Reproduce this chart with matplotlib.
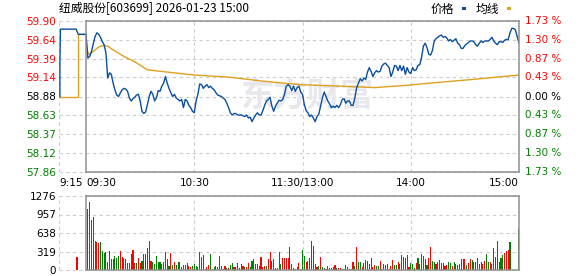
import matplotlib
matplotlib.use('Agg')  # no display in the sandbox

import matplotlib.pyplot as plt
import matplotlib.transforms as mtransforms
from matplotlib.patches import Rectangle
import numpy as np

# ---- data ----
title = '纽威股份[603699] 2026-01-23 15:00'
prev_close = 58.88
price_ticks = [57.86, 58.12, 58.37, 58.63, 58.88, 59.14, 59.39, 59.64, 59.90]
pct_ticks = [1.73, 1.30, 0.87, 0.43, 0.00, 0.43, 0.87, 1.30, 1.73]
vol_ticks = [0, 319, 638, 957, 1276]
time_ticks = [-15, 0, 60, 120, 180, 240]
time_labels = ['9:15', '09:30', '10:30', '11:30/13:00', '14:00', '15:00']

# call auction 9:15-9:30 (minutes relative to 9:30)
pre_times = [-14.5, -14.5, -14.2, -5.5, -4.3, 0]
pre_price = [58.88, 59.34, 59.79, 59.79, 59.72, 59.72]
pre_avg_times = [-14.5, -4.6, -4.6, -4.3, -4.3, 0]
pre_avg = [58.88, 58.88, 59.29, 59.29, 59.72, 59.72]
pre_vol_times = [-5]
pre_vol = [230]

# one price per trading minute, 09:30 .. 15:00 (241 points)
price = [
    59.72, 59.40, 59.42, 59.49, 59.59, 59.69, 59.74, 59.72, 59.68, 59.62,
    59.58, 59.47, 59.13, 59.20, 59.18, 59.06, 58.97, 58.90, 58.88, 58.93,
    58.97, 58.99, 58.98, 58.95, 58.86, 58.82, 58.85, 58.87, 58.90, 58.91,
    58.82, 58.68, 58.65, 58.67, 58.77, 58.88, 58.95, 58.91, 58.82, 58.86,
    58.96, 58.95, 59.02, 59.06, 59.15, 59.06, 58.99, 58.93, 58.88, 58.91,
    58.86, 58.84, 58.82, 58.84, 58.73, 58.84, 58.82, 58.76, 58.73, 58.68,
    58.66, 58.82, 58.91, 59.05, 59.04, 58.99, 59.02, 59.04, 59.00, 59.02,
    58.99, 58.97, 58.93, 58.90, 58.89, 58.88, 58.86, 58.84, 58.79, 58.73,
    58.66, 58.63, 58.65, 58.65, 58.63, 58.63, 58.63, 58.62, 58.61, 58.63,
    58.59, 58.60, 58.54, 58.59, 58.63, 58.66, 58.63, 58.63, 58.69, 58.76,
    58.82, 58.84, 58.87, 58.75, 58.68, 58.75, 58.79, 58.83, 58.82, 58.84,
    58.91, 59.02, 59.04, 59.02, 58.96, 59.02, 58.95, 59.00, 59.02, 58.94,
    58.91, 58.77, 58.69, 58.66, 58.61, 58.63, 58.59, 58.54, 58.61, 58.64,
    58.75, 58.86, 58.94, 58.88, 58.82, 58.78, 58.73, 58.75, 58.73, 58.76,
    58.73, 58.77, 58.84, 58.85, 58.79, 58.82, 58.82, 58.76, 58.76, 58.86,
    59.00, 59.06, 59.12, 59.09, 59.13, 59.11, 59.21, 59.27, 59.22, 59.15,
    59.20, 59.23, 59.21, 59.22, 59.29, 59.32, 59.33, 59.30, 59.27, 59.15,
    59.21, 59.30, 59.29, 59.23, 59.30, 59.23, 59.29, 59.18, 59.27, 59.21,
    59.19, 59.27, 59.23, 59.24, 59.30, 59.31, 59.41, 59.56, 59.60, 59.54,
    59.45, 59.44, 59.50, 59.63, 59.66, 59.68, 59.70, 59.71, 59.68, 59.69,
    59.67, 59.63, 59.65, 59.62, 59.64, 59.66, 59.60, 59.58, 59.53, 59.53,
    59.57, 59.59, 59.61, 59.63, 59.63, 59.62, 59.58, 59.56, 59.60, 59.63,
    59.61, 59.63, 59.63, 59.63, 59.65, 59.68, 59.63, 59.60, 59.58, 59.62,
    59.62, 59.61, 59.64, 59.65, 59.65, 59.74, 59.80, 59.80, 59.78, 59.69,
    59.60,
]

# average price line, read at a few points
avg_minutes = [0, 1, 2, 4, 6, 8, 10, 12, 15, 21, 27, 34, 45, 60, 80, 97,
               119, 140, 160, 177, 195, 214, 240]
avg_price = [59.60, 59.47, 59.45, 59.49, 59.53, 59.56, 59.57, 59.56, 59.51,
             59.42, 59.35, 59.24, 59.21, 59.17, 59.14, 59.09, 59.04, 59.02,
             59.00, 59.03, 59.07, 59.11, 59.17]

# volume per minute 09:31 .. 15:00 (240 bars), 1 = up (red), 0 = down (green)
volume = [
    1052, 1173, 862, 908, 494, 477, 466, 477, 322, 293,
    305, 132, 322, 190, 190, 247, 201, 236, 322, 219,
    201, 190, 121, 121, 276, 345, 121, 121, 201, 121,
    150, 276, 276, 380, 494, 150, 132, 103, 236, 132,
    132, 103, 132, 305, 190, 75, 288, 86, 132, 92,
    132, 132, 58, 86, 86, 115, 75, 46, 75, 103,
    75, 46, 305, 219, 259, 17, 46, 92, 276, 17,
    46, 75, 46, 242, 69, 17, 69, 35, 35, 81,
    115, 46, 58, 115, 35, 103, 75, 58, 46, 115,
    46, 150, 190, 103, 103, 75, 219, 58, 75, 75,
    190, 305, 150, 190, 35, 35, 305, 103, 201, 201,
    207, 207, 391, 103, 35, 17, 58, 115, 17, 345,
    242, 132, 161, 207, 506, 420, 103, 58, 75, 230,
    58, 35, 23, 75, 35, 35, 58, 92, 35, 35,
    35, 17, 17, 92, 58, 17, 17, 132, 75, 402,
    132, 144, 58, 121, 173, 150, 103, 207, 46, 92,
    75, 75, 161, 17, 103, 92, 103, 17, 75, 173,
    92, 92, 132, 103, 259, 230, 207, 259, 58, 121,
    103, 35, 121, 207, 103, 276, 247, 190, 86, 207,
    402, 150, 138, 103, 132, 173, 121, 115, 75, 92,
    132, 121, 75, 132, 103, 92, 103, 190, 190, 190,
    92, 121, 190, 173, 132, 132, 207, 103, 132, 103,
    161, 276, 132, 132, 103, 380, 230, 506, 132, 207,
    259, 293, 334, 345, 477, 0, 0, 0, 0, 707,
]
vol_up = [
    0, 0, 1, 1, 1, 1, 1, 0, 0, 0,
    0, 0, 0, 0, 0, 0, 0, 0, 1, 1,
    1, 1, 0, 0, 0, 1, 1, 0, 1, 1,
    0, 0, 0, 1, 1, 1, 0, 0, 0, 0,
    0, 0, 1, 1, 1, 0, 1, 0, 1, 0,
    0, 1, 0, 1, 1, 0, 1, 1, 0, 0,
    0, 0, 1, 1, 0, 0, 1, 1, 0, 1,
    0, 1, 0, 1, 0, 1, 1, 0, 1, 0,
    0, 1, 0, 1, 0, 1, 1, 0, 1, 1,
    0, 0, 1, 1, 1, 0, 1, 1, 1, 0,
    1, 1, 0, 1, 1, 1, 1, 0, 1, 1,
    1, 1, 1, 1, 0, 1, 0, 1, 0, 0,
    0, 1, 1, 0, 0, 1, 1, 1, 0, 1,
    0, 0, 1, 0, 0, 1, 0, 1, 0, 1,
    1, 0, 0, 1, 1, 0, 1, 1, 0, 1,
    0, 0, 1, 0, 1, 1, 0, 0, 1, 1,
    0, 0, 1, 1, 1, 0, 0, 0, 1, 1,
    0, 0, 1, 0, 1, 1, 0, 1, 1, 0,
    0, 0, 1, 0, 1, 1, 1, 0, 0, 1,
    1, 0, 0, 1, 1, 1, 0, 1, 1, 1,
    0, 0, 1, 0, 1, 0, 1, 1, 1, 1,
    0, 1, 1, 0, 1, 1, 1, 0, 1, 1,
    1, 0, 0, 1, 1, 1, 0, 0, 1, 0,
    0, 1, 1, 1, 0, 0, 0, 0, 0, 0,
]

# ---- styling ----
UP = '#ff0000'
DOWN = '#008000'
BLUE = '#0a4f9e'
GOLD = '#e0a020'
GRID = '#cccccc'
BOX = '#8f8f8f'
NUM_FONT = 7.5
CJK = ['Noto Sans CJK SC', 'DejaVu Sans']

fig = plt.figure(figsize=(5.78, 2.76), dpi=100)
W, H = 578, 276
ax = fig.add_axes([59 / W, 1 - 172 / H, 460 / W, 151 / H])
axv = fig.add_axes([59 / W, 1 - 270 / H, 460 / W, 74 / H])

x_start, x_end = time_ticks[0], time_ticks[-1]
open_frac = (0 - x_start) / (x_end - x_start)


def frame(a, levels):
    # dashed grid over the whole width, solid box from 09:30 onward
    for s in a.spines.values():
        s.set_visible(False)
    for lv in levels:
        a.axhline(lv, color=GRID, lw=0.8, ls=(0, (3, 3)), zorder=0, clip_on=False)
    for t in [x_start, 60, 120, 180]:
        a.axvline(t, color=GRID, lw=0.8, ls=(0, (3, 3)), zorder=0)
    a.axvline(0, color=BOX, lw=1.1, zorder=5, clip_on=False)
    a.axvline(x_end, color=BOX, lw=1.1, zorder=5, clip_on=False)
    a.axhline(levels[-1], xmin=open_frac, xmax=1, color=BOX, lw=1.1, zorder=5, clip_on=False)
    a.axhline(levels[0], xmin=open_frac, xmax=1, color=BOX, lw=1.1, zorder=5, clip_on=False)
    a.set_xlim(x_start, x_end)
    a.set_ylim(levels[0], levels[-1])
    a.tick_params(length=0, labelsize=NUM_FONT, pad=2)


def side_color(p):
    return UP if p > prev_close else DOWN if p < prev_close else 'black'


# ---- price panel ----
frame(ax, price_ticks)
minutes = np.arange(len(price))

ax.text(307 / W, 1 - 97 / H, '东方财富', transform=fig.transFigure, ha='center',
        va='center', fontsize=24, fontweight='bold', color='#e8e8ec',
        family=CJK, zorder=0.5)

ax.plot(pre_avg_times, pre_avg, color=GOLD, lw=1.0, zorder=2)
ax.plot(avg_minutes, avg_price, color=GOLD, lw=1.0, zorder=2)
ax.plot(pre_times, pre_price, color=BLUE, lw=1.0, zorder=3)
ax.plot(minutes, price, color=BLUE, lw=1.0, zorder=3)

ax.set_yticks(price_ticks)
ax.set_yticklabels([f'{p:.2f}' for p in price_ticks])
for lbl, p in zip(ax.get_yticklabels(), price_ticks):
    lbl.set_color(side_color(p))

# percent labels on the right
trans = mtransforms.blended_transform_factory(ax.transAxes, ax.transData)
for p, pct in zip(price_ticks, pct_ticks):
    ax.text(1.013, p, f'{pct:.2f} %', transform=trans, ha='left',
            va='center', fontsize=NUM_FONT, color=side_color(p), clip_on=False)

ax.set_xticks(time_ticks)
ax.set_xticklabels(time_labels)
ax.tick_params(axis='x', pad=4)
xl = ax.get_xticklabels()
xl[0].set_ha('left')
xl[1].set_ha('left')
xl[-1].set_ha('right')

# ---- volume panel ----
frame(axv, vol_ticks)
vol_minutes = np.arange(1, len(volume) + 1)
colors = [UP if u else DOWN for u in vol_up]
axv.bar(pre_vol_times, pre_vol, width=0.6, color=UP, linewidth=0, antialiased=False)
axv.bar(vol_minutes, volume, width=0.6, color=colors, linewidth=0, antialiased=False)
axv.set_yticks(vol_ticks)
axv.set_yticklabels([str(v) for v in vol_ticks])
axv.set_xticks([])

# ---- title and legend ----
fig.text(59 / W, 1 - 9 / H, title, ha='left', va='center', fontsize=8.5, family=CJK)
fig.text(431 / W, 1 - 9 / H, '价格', ha='left', va='center', fontsize=8.5, family=CJK)
fig.text(476 / W, 1 - 9 / H, '均线', ha='left', va='center', fontsize=8.5, family=CJK)
fig.add_artist(Rectangle((462 / W, 1 - 10 / H), 4 / W, 3 / H, transform=fig.transFigure,
                         color=BLUE, lw=0))
fig.add_artist(Rectangle((507 / W, 1 - 10 / H), 4 / W, 3 / H, transform=fig.transFigure,
                         color=GOLD, lw=0))

fig.savefig('out.png', dpi=100)
plt.close(fig)
